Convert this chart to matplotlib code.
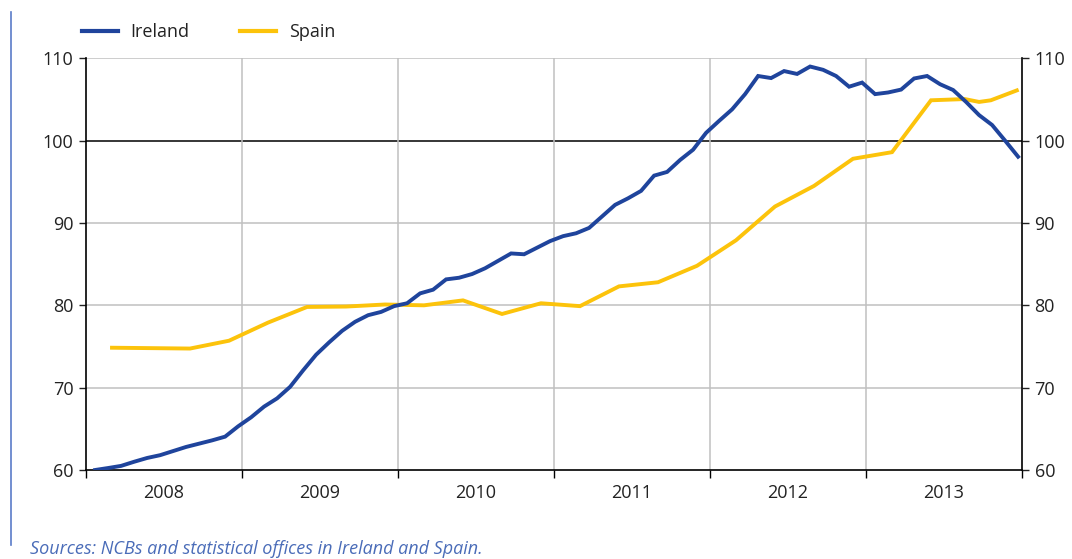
import matplotlib
matplotlib.use("Agg")
import matplotlib.pyplot as plt
from matplotlib.lines import Line2D
import numpy as np

plt.rcParams['font.family'] = ['Open Sans', 'DejaVu Sans']

# ---- data ----
years = ["2008", "2009", "2010", "2011", "2012", "2013"]

# Ireland: monthly, Jan 2008 - Dec 2013 (x = months since Jan 2008)
ireland_months = [i + 0.7 for i in range(72)]
ireland = [60.0, 60.24, 60.5, 61.0, 61.46, 61.8, 62.3, 62.8, 63.2, 63.6, 64.05, 65.3,
           66.4, 67.7, 68.7, 70.1, 72.1, 74.0, 75.5, 76.9, 78.0, 78.8, 79.2, 79.9,
           80.25, 81.45, 81.9, 83.15, 83.35, 83.8, 84.5, 85.4, 86.3, 86.2, 87.0, 87.8,
           88.4, 88.75, 89.4, 90.8, 92.2, 93.0, 93.9, 95.75, 96.2, 97.65, 98.9, 100.95,
           102.4, 103.8, 105.65, 107.85, 107.6, 108.45, 108.1, 109.0, 108.6, 107.85, 106.55, 107.05,
           105.65, 105.85, 106.2, 107.55, 107.85, 106.85, 106.15, 104.7, 103.1, 101.9, 100.0, 98.05]

# Spain: quarterly (plus latest monthly readings)
spain_months = [2 + 3 * k for k in range(22)] + [67.6, 68.7, 69.6, 71.6]
spain = [74.85, 74.8, 74.75, 75.7, 77.9, 79.8, 79.85, 80.1, 80.0, 80.6, 78.95, 80.25,
         79.9, 82.3, 82.8, 84.8, 87.9, 92.0, 94.5, 97.8, 98.6, 104.9,
         105.05, 104.7, 104.9, 106.1]

series_names = ["Ireland", "Spain"]
y_ticks = [60, 70, 80, 90, 100, 110]
source_text = "Sources: NCBs and statistical offices in Ireland and Spain."

# ---- style ----
c_ireland = "#1f449c"
c_spain = "#fcc30b"
grid_c = "#c0c0c0"

fig = plt.figure(figsize=(10.72, 5.59), dpi=100)
ax = fig.add_axes([86 / 1072, 1 - 470 / 559, (1022 - 86) / 1072, (470 - 58.3) / 559])

ax.set_xlim(0, 72)
ax.set_ylim(60, 110)

# grid
for yv in y_ticks[1:]:
    ax.axhline(yv, color=("black" if yv == 100 else grid_c), lw=1.1, zorder=1)
for k in range(1, 6):
    ax.axvline(12 * k, color=grid_c, lw=1.1, zorder=1)

ax.plot(spain_months, spain, color=c_spain, lw=2.8, zorder=3, solid_joinstyle='miter')
ax.plot(ireland_months, ireland, color=c_ireland, lw=2.8, zorder=4, solid_joinstyle='miter')

ax.spines["top"].set_visible(False)
for s in ["left", "right", "bottom"]:
    ax.spines[s].set_color("black")
    ax.spines[s].set_linewidth(1.2)

ax.set_yticks(y_ticks)
ax.tick_params(axis='y', which='both', left=True, right=True, labelleft=True, labelright=True,
               direction='out', length=5, width=1, labelsize=13, colors='#222222', pad=4)
ax.set_xticks([12 * k for k in range(7)])
ax.set_xticklabels([])
ax.set_xticks([6 + 12 * k for k in range(6)], minor=True)
ax.set_xticklabels(years, minor=True)
ax.tick_params(axis='x', which='major', direction='out', length=6, width=1)
ax.tick_params(axis='x', which='minor', length=0, labelsize=13, pad=10, colors='#222222')

# legend
handles = [Line2D([0], [0], color=c_ireland, lw=3), Line2D([0], [0], color=c_spain, lw=3)]
fig.legend(handles, series_names, loc='center left', bbox_to_anchor=(82 / 1072, 1 - 32 / 559),
           ncol=2, frameon=False, fontsize=13, handlelength=2.0, handletextpad=0.7,
           columnspacing=2.8, borderpad=0, borderaxespad=0, labelcolor='#222222')

# decorative left rule
fig.add_artist(Line2D([11 / 1072, 11 / 1072], [1 - 545 / 559, 1 - 12 / 559],
                      transform=fig.transFigure, color="#5a7cc8", lw=1.2))

fig.text(30 / 1072, 1 - 549 / 559, source_text, fontsize=13, style='italic',
         color="#4a6cb8", va='center', ha='left')

fig.savefig("out.png", dpi=100)
